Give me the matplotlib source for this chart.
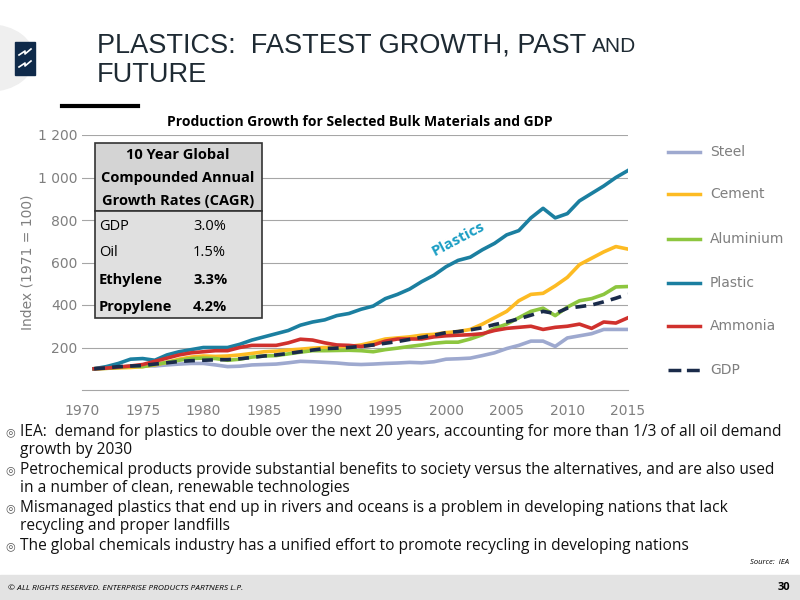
import matplotlib
matplotlib.use("Agg")
import matplotlib.pyplot as plt
from matplotlib.patches import Rectangle, Circle
from matplotlib.lines import Line2D

years = list(range(1971, 2016))
steel = [100,103,108,112,115,113,118,122,125,125,118,110,112,118,120,122,128,135,133,130,127,122,120,122,125,127,130,128,133,145,147,150,162,175,195,210,230,230,205,245,255,265,285,285,285]
cement = [100,102,104,106,110,118,130,145,155,160,158,160,165,172,180,183,188,192,197,200,202,205,212,225,240,245,250,258,262,270,275,285,310,340,370,420,450,455,490,530,590,620,650,675,663]
aluminium = [100,102,106,112,110,120,130,140,148,150,148,140,145,155,160,162,170,178,185,185,186,187,185,180,190,197,205,212,220,225,225,240,260,290,310,340,370,385,350,390,420,430,450,485,487]
plastic = [100,110,125,145,148,140,165,180,190,200,200,200,215,235,250,265,280,305,320,330,350,360,380,395,430,450,475,510,540,580,610,625,660,690,730,750,810,855,810,830,890,925,960,1000,1033]
ammonia = [100,103,108,113,120,135,150,165,175,180,185,185,200,210,210,210,222,239,235,222,212,210,205,212,230,240,240,240,250,255,258,260,265,280,290,295,300,285,295,300,310,290,320,315,340]
gdp = [100,104,110,113,115,122,128,134,138,140,142,143,147,153,160,165,172,180,188,195,197,200,205,212,220,228,238,248,258,270,275,283,293,308,320,335,352,370,360,385,392,400,415,432,451]

series = [("Steel", steel, "#9ea9cf", "-"), ("Cement", cement, "#fdbb23", "-"),
          ("Aluminium", aluminium, "#8dc63f", "-"), ("Plastic", plastic, "#1b7fa0", "-"),
          ("Ammonia", ammonia, "#d0312d", "-"), ("GDP", gdp, "#1a2b4a", "--")]
xticks = [1970, 1975, 1980, 1985, 1990, 1995, 2000, 2005, 2010, 2015]
yticks = [200, 400, 600, 800, 1000, 1200]
ytick_labels = ["200", "400", "600", "800", "1 000", "1 200"]
table_rows = [("GDP", "3.0%", False), ("Oil", "1.5%", False), ("Ethylene", "3.3%", True), ("Propylene", "4.2%", True)]

SANS = ["Liberation Sans", "DejaVu Sans"]
OPEN = ["Open Sans", "DejaVu Sans"]

fig = plt.figure(figsize=(8, 6), dpi=100)
W, H = 800, 600
def fx(px): return px / W
def fy(py): return 1 - py / H

# logo area
fig.patches.append(Circle((fx(-10), fy(58)), 0.055, transform=fig.transFigure, color="#efefef", zorder=0))
fig.patches.append(Rectangle((fx(15), fy(75)), 20/W, 33/H, transform=fig.transFigure, color="#0f2a4a", zorder=1))
fig.lines.append(Line2D([fx(19), fx(25), fx(25), fx(31)], [fy(55), fy(51), fy(54), fy(49)], transform=fig.transFigure, color="white", lw=1.2, zorder=2))
fig.lines.append(Line2D([fx(19), fx(25), fx(25), fx(31)], [fy(67), fy(63), fy(66), fy(61)], transform=fig.transFigure, color="white", lw=1.2, zorder=2))
fig.text(fx(97), fy(45), "PLASTICS:  FASTEST GROWTH, PAST", fontsize=19.5, family=SANS, color="#1e2a33", va="center")
fig.text(fx(592), fy(47), "AND", fontsize=15, family=SANS, color="#1e2a33", va="center")
fig.text(fx(97), fy(75), "FUTURE", fontsize=19.5, family=SANS, color="#1e2a33", va="center")
fig.lines.append(Line2D([fx(62), fx(138)], [fy(106), fy(106)], transform=fig.transFigure, color="black", lw=3))

ax = fig.add_axes([fx(82), fy(390), (628-82)/W, (390-135)/H])
for name, vals, col, ls in series:
    if ls == "--":
        ax.plot(years, vals, color=col, lw=2.6, dashes=(3, 2))
    else:
        ax.plot(years, vals, color=col, lw=2.6)
ax.set_xlim(1970, 2015)
ax.set_ylim(0, 1200)
ax.set_xticks(xticks)
ax.set_yticks(yticks)
ax.set_yticklabels(ytick_labels)
ax.grid(axis="y", color="#a6a6a6", lw=0.8)
for s in ["top", "right", "left"]:
    ax.spines[s].set_visible(False)
ax.spines["bottom"].set_color("#a6a6a6")
ax.tick_params(length=0, labelcolor="#7f7f7f", labelsize=10)
ax.tick_params(axis="x", pad=10)
ax.set_ylabel("Index (1971 = 100)", color="#7f7f7f", fontsize=10, labelpad=2)
ax.text(2001, 630, "Plastics", color="#1b9ec4", fontsize=11, fontweight="bold", rotation=28, family=OPEN, ha="center")
fig.text(fx(360), fy(122), "Production Growth for Selected Bulk Materials and GDP", fontsize=10, fontweight="bold", family=OPEN, ha="center", va="center")

# CAGR table
x0, x1 = 95, 262
fig.patches.append(Rectangle((fx(x0), fy(211)), (x1-x0)/W, 68/H, transform=fig.transFigure, facecolor="#d4d4d4", edgecolor="#333333", lw=1.2, zorder=3))
fig.patches.append(Rectangle((fx(x0), fy(318)), (x1-x0)/W, 107/H, transform=fig.transFigure, facecolor="#e0e0e0", edgecolor="#333333", lw=1.2, zorder=3))
for i, line in enumerate(["10 Year Global", "Compounded Annual", "Growth Rates (CAGR)"]):
    fig.text(fx(178), fy(155 + 23*i), line, fontsize=10.5, fontweight="bold", family=OPEN, ha="center", va="center", zorder=4)
for i, (a, b, bold) in enumerate(table_rows):
    y = fy(226 + 27*i)
    w = "bold" if bold else "normal"
    fig.text(fx(99), y, a, fontsize=10.5, fontweight=w, family=OPEN, va="center", zorder=4)
    fig.text(fx(193), y, b, fontsize=10.5, fontweight=w, family=OPEN, va="center", zorder=4)

# legend
leg_y = [152, 194, 239, 283, 326, 370]
for (name, vals, col, ls), py in zip(series, leg_y):
    fig.lines.append(Line2D([fx(668), fx(700)], [fy(py), fy(py)], transform=fig.transFigure, color=col, lw=2.5, ls=ls))
    fig.text(fx(710), fy(py), name, fontsize=10, color="#7f7f7f", va="center")

# bullets
bullets = [
    ["IEA:  demand for plastics to double over the next 20 years, accounting for more than 1/3 of all oil demand", "growth by 2030"],
    ["Petrochemical products provide substantial benefits to society versus the alternatives, and are also used", "in a number of clean, renewable technologies"],
    ["Mismanaged plastics that end up in rivers and oceans is a problem in developing nations that lack", "recycling and proper landfills"],
    ["The global chemicals industry has a unified effort to promote recycling in developing nations"],
]
py = 432
for b in bullets:
    fig.text(fx(5), fy(py), "◎", fontsize=8, color="#555555", va="center")
    for line in b:
        fig.text(fx(20), fy(py), line, fontsize=11.2, family=OPEN, va="center", color="#111111")
        py += 18.5
    py += 1
fig.text(fx(750), fy(563), "Source:  IEA", fontsize=5.5, style="italic", family=OPEN, va="center")
fig.patches.append(Rectangle((0, 0), 1, 25/H, transform=fig.transFigure, color="#e3e3e3", zorder=0))
fig.text(fx(8), fy(588), "© ALL RIGHTS RESERVED. ENTERPRISE PRODUCTS PARTNERS L.P.", fontsize=6, style="italic", family=OPEN, va="center")
fig.text(fx(790), fy(588), "30", fontsize=8, fontweight="bold", family=OPEN, va="center", ha="right")

fig.savefig("out.png", dpi=100)
